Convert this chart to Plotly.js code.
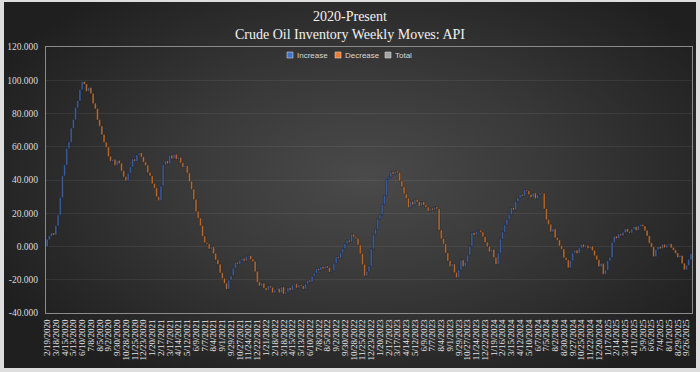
<!DOCTYPE html>
<html>
<head>
<meta charset="utf-8">
<script src="https://cdn.plot.ly/plotly-3.0.1.min.js"></script>
<style>
  html, body { margin:0; padding:0; background:#dedede; }
  #wrap { position:relative; width:700px; height:372px; overflow:hidden; }
  #bg { position:absolute; left:4px; top:2px; width:692px; height:366px;
        background: radial-gradient(ellipse 60% 65% at 52% 48%, #4a4a4a 0%, #393939 45%, #262626 85%, #1f1f1f 100%); }
  #chart { position:absolute; left:0; top:0; width:700px; height:372px; }
</style>
</head>
<body>
<div id="wrap"><div id="bg"></div><div id="chart"></div></div>
<script>
// Weekly API crude inventory changes (million bbl), 2/19/2020 onward
const weeklyChanges = [
  4.2, 2.0, 1.8, -1.0, 5.5, 6.4, 10.5, 13.1, 6.5, 10.0, 3.8, 8.3, 5.2, 7.2, 4.2, 6.6, 4.8, -1.4,
  -4.3, 2.1, -3.5, -5.9, -3.2, -6.7, -3.8, -5.1, -4.6, -2.9, -5.6, -2.8, 0.9, -3.4, 2.8, -1.7, -4.5, -3.6, -2.3,
  4.4, 3.9, 4.6, -1.2, 3.7, 1.3, -2.4, -3.1, -2.0, -4.3, -1.9, -4.8, -2.6, -5.2, -2.3,
  8.6, 12.8, 2.4, -1.6, 4.9, -1.9, 2.5, -2.8, 0.9, -3.2, -2.6, 0.8, -4.3, -5.1, -4.7, -6.1, -7.2, -4.1, -4.5, -6.3, -3.9, -0.8, -2.9, 1.2, -4.0, -3.8, -2.7, -5.1, -3.4, -2.9, -3.5,
  5.3, 2.7, 4.6, 3.4, -0.9, 2.1, 1.2, -1.5, 2.6, 0.5, -2.1, -1.3, -6.0, -6.4,
  -2.2, 1.4, -2.8, -1.3, 2.5, -0.9, -3.1, 1.8, 0.7, -2.4, 3.2, -4.0, 1.1, 2.6, -1.5, 3.0, 0.8, -2.3, 1.6, -0.6, -1.7, 2.9, 2.2, -0.8, 3.3, 1.9, 2.6, -0.9, 2.1, -1.2, 1.6, -1.0, -2.4, 0.6,
  4.5, 3.8, -0.7, 3.3, 2.4, 2.9, 2.1, -1.0, 4.6, -1.6, -0.9, -3.9, -5.2, -6.5, -6.9, 2.7, 3.1,
  10.5, 8.6, 3.2, 6.1, 2.6, 6.2, 5.3, 9.8, 1.4, 3.1, -1.3, 1.8, -0.9, -5.0, -3.6, -4.3, -2.7, -5.4, 3.6, -2.0, 3.2, -1.4, -2.6, 2.5, -1.9, -1.2, -2.4, 1.6, -1.0, 1.8, -1.1,
  -12.7, -5.2, -3.1, -5.5, -4.8, -3.4, 1.6, -5.2, -2.9, 4.6, 5.8, -3.8, 2.5, 4.4, 5.3, 8.1, -1.4, 2.2, 0.6, -1.1, -2.7, -3.4, -2.6, -3.0, 1.3, -4.8, -4.1,
  6.7, 8.4, 4.2, 4.3, 3.4, 2.9, 4.1, -1.2, 4.9, 2.3, 1.9, -0.8, 3.6, -0.6, -2.1, -1.7, 2.6, -3.3, 2.0, 1.4, -0.4, -9.2, -6.5, -2.9, -4.4, 1.6, -5.2, -1.5, -3.4, -2.0, -5.1, -1.4, -4.6, 4.1, 4.7, 1.6, -1.8, 3.3, 2.0, -1.5, 0.9,
  -1.7, 1.2, -2.4, -3.1, -2.6, -4.1, 1.8, -6.3, 2.4, 5.6, 2.0, 9.0, 3.7, -1.2, 2.6, -0.9, 1.8, 2.1, -1.6, -0.7, 2.2, 1.5, -2.1, 2.5, 0.8, -0.9, -2.6, -3.2, -4.3, -2.4, -5.7, 4.0, 1.9, -1.1, 2.4, -1.8, 1.5, 0.6, -2.2, -1.4, -1.9, -2.5, 0.9, -4.6, -3.7, 2.6, 3.5, 3.3
];

// Category tick labels (every 4th week)
const tickLabels = [
  '2/19/2020','3/18/2020','4/15/2020','5/13/2020','6/10/2020','7/8/2020','8/5/2020','9/2/2020','9/30/2020','10/28/2020','11/25/2020','12/23/2020',
  '1/20/2021','2/17/2021','3/17/2021','4/14/2021','5/12/2021','6/9/2021','7/7/2021','8/4/2021','9/1/2021','9/29/2021','10/27/2021','11/24/2021','12/22/2021',
  '1/21/2022','2/18/2022','3/18/2022','4/15/2022','5/13/2022','6/10/2022','7/8/2022','8/5/2022','9/2/2022','9/30/2022','10/28/2022','11/25/2022','12/23/2022',
  '1/20/2023','2/17/2023','3/17/2023','4/14/2023','5/12/2023','6/9/2023','7/7/2023','8/4/2023','9/1/2023','9/29/2023','10/27/2023','11/24/2023','12/22/2023',
  '1/19/2024','2/16/2024','3/15/2024','4/12/2024','5/10/2024','6/7/2024','7/5/2024','8/2/2024','8/30/2024','9/27/2024','10/25/2024','11/22/2024','12/20/2024',
  '1/17/2025','2/14/2025','3/14/2025','4/11/2025','5/9/2025','6/6/2025','7/4/2025','8/1/2025','8/29/2025','9/26/2025'
];
const tickStep = 4;

const yTickVals = [-40, -20, 0, 20, 40, 60, 80, 100, 120];
const yTickText = ['-40.000','-20.000','0.000','20.000','40.000','60.000','80.000','100.000','120.000'];

const legendNames = ['Increase', 'Decrease', 'Total'];
const legendColors = ['#4472C4', '#ED7D31', '#A5A5A5'];

const weekIndex = weeklyChanges.map((_, i) => i);
const tickVals = tickLabels.map((_, i) => i * tickStep);

const trace = {
  type: 'waterfall',
  x: weekIndex,
  y: weeklyChanges,
  measure: weeklyChanges.map(() => 'relative'),
  increasing: { marker: { color: '#3f62a6', line: { color: '#1b1b1b', width: 0.4 } } },
  decreasing: { marker: { color: '#c4702f', line: { color: '#1b1b1b', width: 0.4 } } },
  totals: { marker: { color: '#A5A5A5' } },
  connector: { line: { color: '#1e1e1e', width: 0.5 } },
  showlegend: false,
  hoverinfo: 'skip'
};

// Legend drawn as small squares + labels
const legendX = [290, 338, 388];   // page px of square centers
const plotL = 46, plotR = 692, plotT = 47, plotB = 313;
const pw = plotR - plotL, ph = plotB - plotT;
const legY = (plotB - 55) / ph;
const shapes = legendNames.map((n, k) => ({
  type: 'rect', xref: 'paper', yref: 'paper',
  xsizemode: 'pixel', ysizemode: 'pixel',
  xanchor: (legendX[k] - plotL) / pw, yanchor: legY,
  x0: -3, x1: 3, y0: -3, y1: 3,
  fillcolor: legendColors[k], line: { color: '#d0d0d0', width: 0.6 }
}));
const annotations = legendNames.map((n, k) => ({
  text: n, xref: 'paper', yref: 'paper',
  x: (legendX[k] + 5 - plotL) / pw, y: legY,
  xanchor: 'left', yanchor: 'middle', showarrow: false,
  font: { family: 'Liberation Sans, Arial, sans-serif', size: 8, color: '#d8d8d8' }
}));

const layout = {
  width: 700, height: 372,
  margin: { l: plotL, r: 700 - plotR, t: plotT, b: 372 - plotB, pad: 0 },
  paper_bgcolor: 'rgba(0,0,0,0)',
  plot_bgcolor: 'rgba(0,0,0,0)',
  title: {
    text: '2020-Present<br>Crude Oil Inventory Weekly Moves: API',
    font: { family: 'Liberation Serif, Times New Roman, serif', size: 14, color: '#f2f2f2' },
    x: 0.5, xanchor: 'center', xref: 'container',
    y: 1 - 21/372, yanchor: 'top', yref: 'container'
  },
  xaxis: {
    range: [-0.5, weeklyChanges.length - 0.5],
    tickmode: 'array', tickvals: tickVals, ticktext: tickLabels,
    tickangle: -90,
    tickfont: { family: 'Liberation Serif, Times New Roman, serif', size: 9, color: '#e6e6e6' },
    showgrid: false, zeroline: false,
    showline: true, linecolor: '#8a8a8a', linewidth: 1, mirror: true,
    ticks: '', ticklabelstandoff: 2
  },
  yaxis: {
    range: [-40, 120],
    tickmode: 'array', tickvals: yTickVals, ticktext: yTickText,
    tickfont: { family: 'Liberation Serif, Times New Roman, serif', size: 9.5, color: '#dcdcdc' },
    showgrid: true, gridcolor: 'rgba(255,255,255,0.07)', gridwidth: 1,
    zeroline: false,
    showline: true, linecolor: '#8a8a8a', linewidth: 1, mirror: true,
    ticks: '', ticklabelstandoff: 5
  },
  waterfallgap: 0.15,
  shapes: shapes,
  annotations: annotations,
  showlegend: false
};

Plotly.newPlot('chart', [trace], layout, { displayModeBar: false, staticPlot: true });
</script>
</body>
</html>
